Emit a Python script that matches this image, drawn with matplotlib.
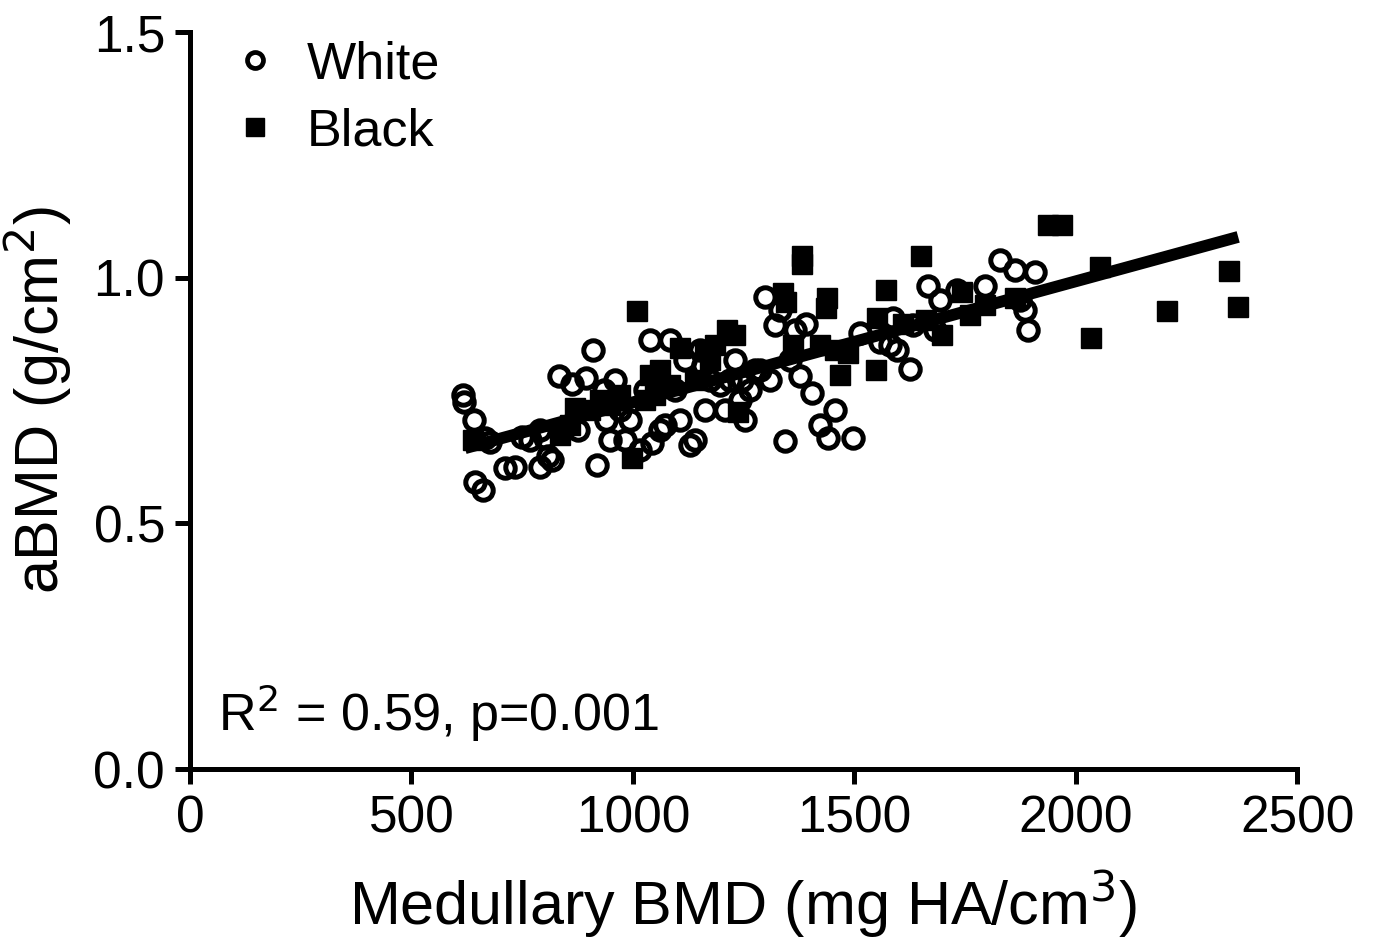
"""Scatter of aBMD against medullary BMD, White vs Black, with a linear fit."""

import matplotlib.pyplot as plt
import numpy as np
from matplotlib.lines import Line2D

plt.rcParams["font.family"] = ["Liberation Sans", "DejaVu Sans"]

# White participants (open circles).
white_x = [616, 619, 641, 644, 662, 666, 677, 711, 734, 750, 768, 790, 790, 802,
           808, 818, 833, 863, 876, 894, 919, 910, 935, 939, 949, 960, 971, 982,
           994, 1016, 1028, 1039, 1043, 1061, 1073, 1084, 1095, 1107, 1118, 1129,
           1140, 1152, 1159, 1163, 1174, 1197, 1208, 1220, 1231, 1242, 1247, 1253,
           1265, 1276, 1287, 1299, 1310, 1321, 1332, 1344, 1355, 1366, 1378, 1391,
           1405, 1423, 1441, 1457, 1497, 1513, 1558, 1581, 1588, 1597, 1626, 1633,
           1667, 1682, 1694, 1732, 1795, 1829, 1863, 1874, 1886, 1892, 1908]
white_y = [0.761, 0.747, 0.711, 0.585, 0.568, 0.674, 0.666, 0.613, 0.615, 0.676,
           0.670, 0.690, 0.615, 0.674, 0.637, 0.629, 0.800, 0.784, 0.690, 0.796,
           0.619, 0.853, 0.771, 0.710, 0.670, 0.792, 0.731, 0.670, 0.710, 0.649,
           0.771, 0.873, 0.664, 0.690, 0.700, 0.873, 0.771, 0.710, 0.832, 0.659,
           0.670, 0.853, 0.822, 0.731, 0.792, 0.782, 0.731, 0.792, 0.832, 0.751,
           0.792, 0.710, 0.771, 0.812, 0.812, 0.961, 0.792, 0.904, 0.934, 0.668,
           0.832, 0.894, 0.800, 0.906, 0.765, 0.700, 0.674, 0.731, 0.674, 0.887,
           0.869, 0.863, 0.918, 0.853, 0.814, 0.904, 0.983, 0.894, 0.955, 0.975,
           0.983, 1.036, 1.016, 0.955, 0.934, 0.894, 1.012]

# Black participants (filled squares).
black_x = [639, 836, 858, 869, 903, 926, 949, 971, 998, 1009, 1028, 1039, 1050,
           1061, 1084, 1107, 1140, 1163, 1174, 1186, 1213, 1231, 1238, 1339, 1346,
           1362, 1382, 1382, 1423, 1436, 1439, 1457, 1468, 1486, 1549, 1551, 1572,
           1610, 1651, 1662, 1698, 1743, 1762, 1795, 1863, 1938, 1969, 2055, 2035,
           2206, 2346, 2367]
black_y = [0.670, 0.680, 0.700, 0.735, 0.731, 0.751, 0.741, 0.761, 0.633, 0.932,
           0.751, 0.802, 0.761, 0.812, 0.782, 0.857, 0.792, 0.853, 0.832, 0.863,
           0.894, 0.883, 0.727, 0.969, 0.951, 0.863, 1.044, 1.028, 0.863, 0.938,
           0.959, 0.853, 0.802, 0.847, 0.812, 0.918, 0.975, 0.906, 1.044, 0.914,
           0.883, 0.971, 0.924, 0.944, 0.959, 1.107, 1.107, 1.022, 0.877, 0.932,
           1.014, 0.940]

# Linear fit as reported in the figure.
fit_slope = 0.0002463
fit_intercept = 0.500
fit_range = [621, 2367]

fig = plt.figure(figsize=(13.73, 9.48), dpi=100)
ax = fig.add_axes([0.1384, 0.1888, 0.8063, 0.7774])

ax.plot(white_x, white_y, "o", ms=14, mfc="none", mec="black", mew=3.6,
        linestyle="none", zorder=3)
ax.plot(black_x, black_y, "s", ms=14.5, color="black", linestyle="none", zorder=3)

fx = np.array(fit_range)
ax.plot(fx, fit_intercept + fit_slope * fx, color="black", lw=8.5,
        solid_capstyle="butt", zorder=4)

ax.set_xlim(0, 2500)
ax.set_ylim(0, 1.5)
ax.set_xticks([0, 500, 1000, 1500, 2000, 2500])
ax.set_yticks([0.0, 0.5, 1.0, 1.5])
ax.set_yticklabels(["0.0", "0.5", "1.0", "1.5"])

for side in ["top", "right"]:
    ax.spines[side].set_visible(False)
for side in ["left", "bottom"]:
    ax.spines[side].set_linewidth(3.6)
ax.tick_params(width=3.6, length=11, labelsize=37, pad=7)

ax.set_xlabel("Medullary BMD (mg HA/cm$^3$)", fontsize=44, labelpad=18)
ax.set_ylabel("aBMD (g/cm$^2$)", fontsize=44, labelpad=14)

ax.text(63, 0.05, "R$^2$ = 0.59, p=0.001", fontsize=37.5, ha="left", va="bottom")

handles = [
    Line2D([], [], marker="o", ms=11.5, mfc="none", mec="black", mew=3.4,
           linestyle="none"),
    Line2D([], [], marker="s", ms=12.5, color="black", linestyle="none"),
]
ax.legend(handles, ["White", "Black"], loc="upper left", frameon=False,
          fontsize=37.5, bbox_to_anchor=(0.009, 1.031), handletextpad=0.55,
          labelspacing=0.35, handlelength=0.9, borderaxespad=0.2)

fig.savefig("out.png", dpi=100)
